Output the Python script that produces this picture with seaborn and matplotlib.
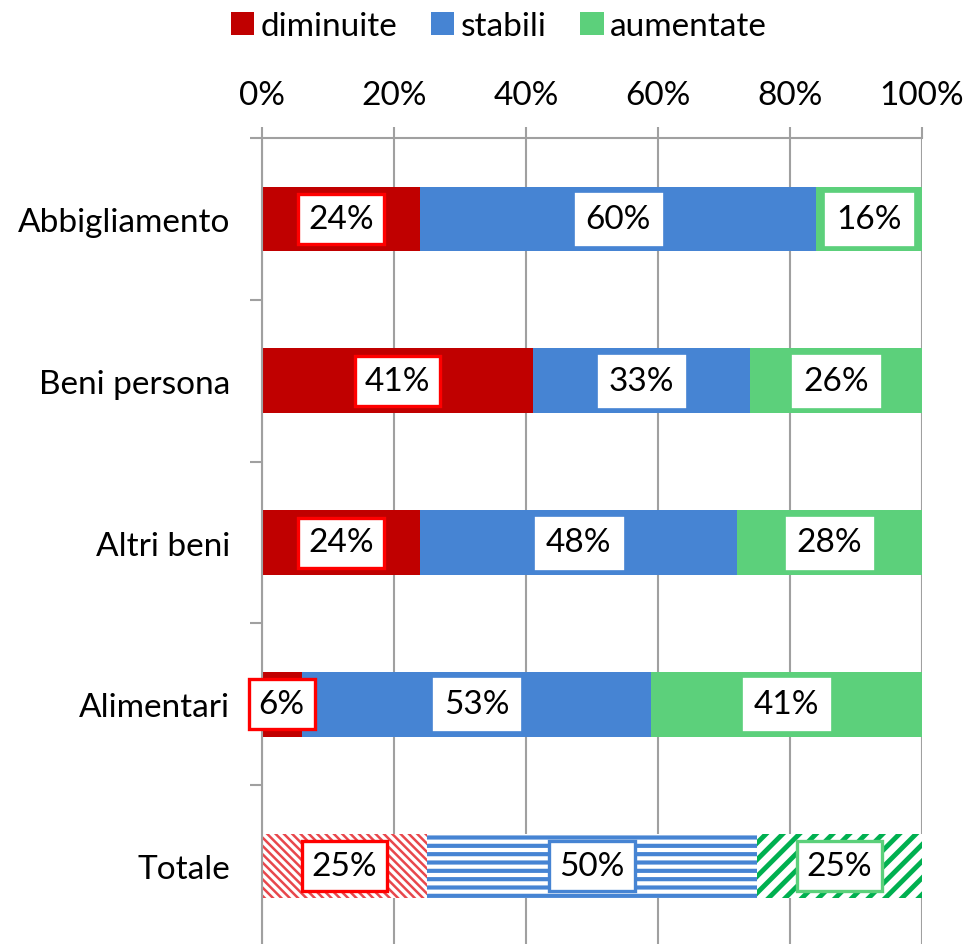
import matplotlib
matplotlib.use("Agg")
import matplotlib.pyplot as plt
import seaborn as sns
import numpy as np
from matplotlib.patches import Patch

# Data
categories = ["Abbigliamento", "Beni persona", "Altri beni", "Alimentari", "Totale"]
diminuite = [24, 41, 24, 6, 25]
stabili = [60, 33, 48, 53, 50]
aumentate = [16, 26, 28, 41, 25]
series_names = ["diminuite", "stabili", "aumentate"]
x_ticks = [0, 20, 40, 60, 80, 100]
x_tick_labels = ["0%", "20%", "40%", "60%", "80%", "100%"]

colors = {"diminuite": "#C00000", "stabili": "#4684D3", "aumentate": "#5CD07B"}
hatch_colors = {"diminuite": "#E8474C", "stabili": "#4684D3", "aumentate": "#00B050"}
hatches = {"diminuite": "\\\\\\\\", "stabili": "--", "aumentate": "//"}
hatch_widths = {"diminuite": 1.8, "stabili": 3.0, "aumentate": 3.5}
box_edges = {"diminuite": "#FF0000", "stabili": "white", "aumentate": "white"}
total_edges = {"diminuite": "#FF0000", "stabili": "#4684D3", "aumentate": "#5CD07B"}

sns.set_style("white")
plt.rcParams["font.family"] = ["Lato", "DejaVu Sans"]
plt.rcParams["hatch.linewidth"] = 3.0
plt.rcParams["text.color"] = "black"
plt.rcParams["xtick.labelcolor"] = "black"
plt.rcParams["ytick.labelcolor"] = "black"
FS = 24
GRAY = "#A0A0A0"

fig = plt.figure(figsize=(9.67, 9.45), dpi=100)
ax = fig.add_axes([262 / 967, -3 / 945, 660 / 967, 809 / 945])

# stacked bars drawn as cumulative layers, widest first
cum1 = np.array(diminuite)
cum2 = cum1 + np.array(stabili)
cum3 = cum2 + np.array(aumentate)
layers = [("aumentate", cum3), ("stabili", cum2), ("diminuite", cum1)]

for name, vals in layers:
    n_before = len(ax.patches)
    sns.barplot(x=vals, y=categories, orient="h", color=colors[name], width=0.4,
                saturation=1, errorbar=None, linewidth=0, zorder=2, ax=ax)
    for i, p in enumerate(ax.patches[n_before:]):
        if categories[i] == "Totale":
            p.set_facecolor("white")
            p.set_edgecolor(hatch_colors[name])
            p.set_hatch(hatches[name])
            p.set_linewidth(0)
            if hasattr(p, "set_hatch_linewidth"):
                p.set_hatch_linewidth(hatch_widths[name])

# value labels in white boxes
for i, cat in enumerate(categories):
    left = 0
    for name, vals in zip(series_names, [diminuite, stabili, aumentate]):
        v = vals[i]
        ec = total_edges[name] if cat == "Totale" else box_edges[name]
        ax.text(left + v / 2, i, f"{v}%", ha="center", va="center", fontsize=24,
                color="black", zorder=6,
                bbox=dict(boxstyle="square,pad=0.3", fc="white", ec=ec, lw=2.4))
        left += v

# axes styling
ax.set_xlim(0, 100)
ax.set_ylim(len(categories) - 0.5, -0.5)
ax.xaxis.tick_top()
ax.set_xticks(x_ticks)
ax.set_xticklabels(x_tick_labels)
ax.set_xlabel("")
ax.set_ylabel("")
ax.tick_params(axis="x", which="major", length=8, width=1.5, color=GRAY,
               labelsize=FS, pad=12, top=True, bottom=False)
ax.tick_params(axis="y", which="major", length=0, labelsize=FS, pad=23)
ax.set_yticks(np.arange(-0.5, len(categories), 1.0), minor=True)
ax.tick_params(axis="y", which="minor", length=9, width=1.5, color=GRAY, left=True)

ax.grid(axis="x", color=GRAY, linewidth=1.5)
ax.grid(axis="y", visible=False)
ax.set_axisbelow(True)
for side in ["right", "bottom"]:
    ax.spines[side].set_visible(False)
for side in ["top", "left"]:
    ax.spines[side].set_color(GRAY)
    ax.spines[side].set_linewidth(1.5)

handles = [Patch(facecolor=colors[n], edgecolor="none") for n in series_names]
fig.legend(handles, series_names, loc="center", bbox_to_anchor=(0.516, 0.971),
           ncol=3, frameon=False, fontsize=FS, handlelength=0.7, handleheight=0.7,
           handletextpad=0.2, columnspacing=1.0, borderaxespad=0)

fig.savefig("out.png", dpi=100)
